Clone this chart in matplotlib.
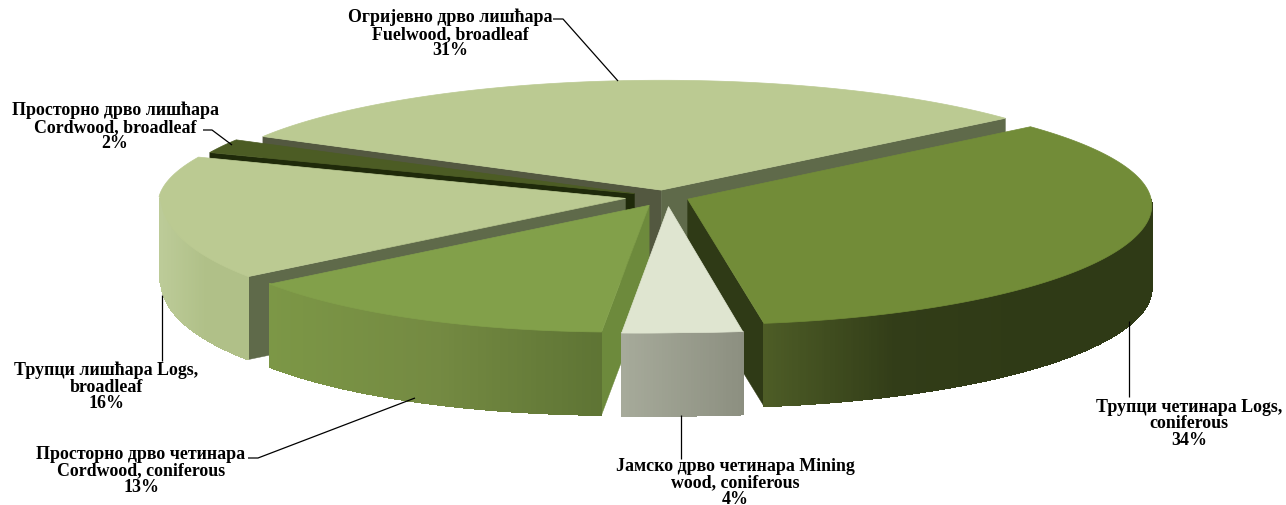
#!/usr/bin/env python3
"""Exploded 3D-look pie of wood assortments, drawn from projected polygons."""

import numpy as np
import matplotlib
matplotlib.use('Agg')
import matplotlib.pyplot as plt
from matplotlib.colors import LinearSegmentedColormap

# clockwise from the right-hand back of the pie
labels = ['Трупци четинара Logs,\nconiferous',
          'Јамско дрво четинара Mining\nwood, coniferous',
          'Просторно дрво четинара\nCordwood, coniferous',
          'Трупци лишћара Logs,\nbroadleaf',
          'Просторно дрво лишћара\nCordwood, broadleaf',
          'Огријевно дрво лишћара\nFuelwood, broadleaf']
values = [34, 4, 13, 16, 2, 31]

explode = [0.05, 0.08, 0.08, 0.087, 0.07, 0.06]
top_colors = ['#728c38', '#dfe5d0', '#82a04a', '#bbca92', '#4c5c24', '#bbca92']
wall_colors = [['#4d5c26', '#323d18', '#2f3a16', '#2f3a16'],
               ['#a6aa9a', '#8c8f80'],
               ['#7c9746', '#748a42', '#5e7434'],
               ['#bccb98', '#b0c088', '#b0c088'],
               ['#1f2a0a', '#1f2a0a'],
               ['#8a9a68', '#8a9a68']]
# cut faces: (face at the start angle, face at the end angle)
face_colors = [('#2f3a16', '#2f3a16'), ('#8c8f80', '#a6aa9a'),
               ('#6d8a3c', '#6d8a3c'), ('#5f6a4a', '#5f6a4a'),
               ('#1f2a0a', '#1f2a0a'), ('#535840', '#5f6a4a')]
draw_order = [5, 4, 0, 3, 2, 1]

CX, CY = 664, 198
RX, RY = 465, 116
DEPTH = 83
PERSP = 0.05
START = 40.0


def project(x, y, z=0.0):
    x, y = np.asarray(x, float), np.asarray(y, float)
    w = 1 + PERSP * y
    front = np.maximum(-y, 0.0)
    # the front half of the original sits a little right and lower, esp. on the left
    px = CX + RX * x / w + 15 * np.sqrt(front) * (1 - np.clip(x, 0.0, 1.0))
    py = CY - RY * y / w + z + 3 * front + 10 * front * np.maximum(-x, 0.0)
    return px, py


def draw_slice(ax, hi, lo, ex, top, wall, faces):
    mid = np.radians((hi + lo) / 2)
    ox, oy = ex * np.cos(mid), ex * np.sin(mid)
    th = np.radians(np.linspace(hi, lo, max(int(hi - lo) * 3, 8)))
    rim_x, rim_y = ox + np.cos(th), oy + np.sin(th)

    # cut faces, only those turned towards the viewer
    for ang, normal, col in ((hi, hi + 90, faces[0]), (lo, lo - 90, faces[1])):
        if np.sin(np.radians(normal)) < 0:
            ex_x = ox + np.cos(np.radians(ang))
            ex_y = oy + np.sin(np.radians(ang))
            ax0, ay0 = project(ox, oy)
            ax1, ay1 = project(ex_x, ex_y)
            ax.fill([ax0, ax1, ax1, ax0], [ay0, ay1, ay1 + DEPTH, ay0 + DEPTH],
                    color=col, lw=0.3)

    # outer wall as thin strips, shaded left to right
    front = np.sin(th) <= 0
    if front.sum() > 1:
        sx, sy = project(rim_x[front], rim_y[front])
        cmap = LinearSegmentedColormap.from_list('wall', wall)
        t = (sx - sx.min()) / max(np.ptp(sx), 1)
        for i in range(len(sx) - 1):
            c = cmap((t[i] + t[i + 1]) / 2)
            ax.fill([sx[i], sx[i + 1], sx[i + 1], sx[i]],
                    [sy[i], sy[i + 1], sy[i + 1] + DEPTH, sy[i] + DEPTH],
                    color=c, lw=0.6, antialiased=False)

    # top
    tx, ty = project(np.r_[ox, rim_x], np.r_[oy, rim_y])
    ax.fill(tx, ty, color=top, lw=0.5)


fig = plt.figure(figsize=(12.86, 5.06), dpi=100)
ax = fig.add_axes([0, 0, 1, 1])
ax.set_xlim(0, 1286)
ax.set_ylim(506, 0)
ax.axis('off')

edges = START - np.r_[0, np.cumsum(values)] * 3.6
for i in draw_order:
    draw_slice(ax, edges[i], edges[i + 1], explode[i], top_colors[i],
               wall_colors[i], face_colors[i])

# leader lines and labels
leaders = [([1129, 1129], [322, 398]),
           ([681, 681], [416, 460]),
           ([248, 258, 415], [459, 459, 399]),
           ([162, 162], [296, 362]),
           ([203, 212, 232], [131, 131, 146]),
           ([553, 563, 618], [20, 20, 82])]
label_pos = [(1189, 424), (735, 483), (141, 471), (106, 387), (115, 127), (450, 34)]

for (lx, ly) in leaders:
    ax.plot(lx, ly, color='black', lw=0.9, solid_capstyle='butt')
for name, val, (tx, ty) in zip(labels, values, label_pos):
    ax.text(tx, ty, f'{name}\n{val}%', ha='center', va='center',
            family='Liberation Serif', fontweight='bold', fontsize=12.9,
            linespacing=0.95, color='black')

fig.savefig('out.png', dpi=100)
plt.close(fig)
